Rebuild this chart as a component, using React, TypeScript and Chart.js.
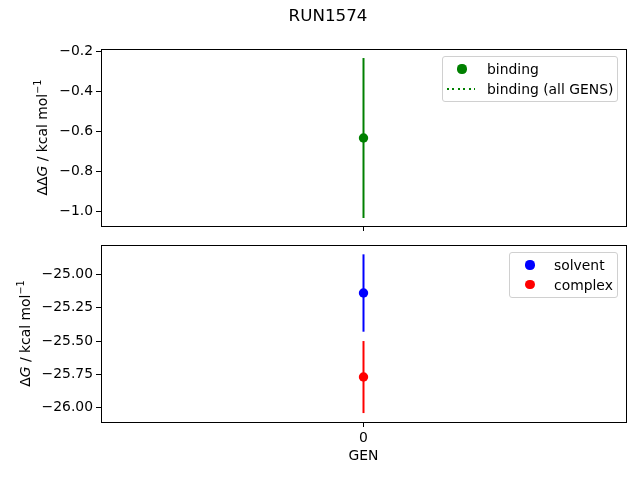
import { useEffect, useRef } from 'react';
import { Chart, registerables } from 'chart.js';

Chart.register(...registerables);

const gens = [0];
const xTicks = [0];

const bindingLabel = 'binding';
const bindingAllLabel = 'binding (all GENS)';
const bindingValues = [-0.635];
const bindingErrors = [0.4];
const bindingAllGens = [-0.635];

const solventLabel = 'solvent';
const solventValues = [-25.14];
const solventErrors = [0.29];
const complexLabel = 'complex';
const complexValues = [-25.77];
const complexErrors = [0.27];

const topTicks = [-1.0, -0.8, -0.6, -0.4, -0.2];
const bottomTicks = [-26.0, -25.75, -25.5, -25.25, -25.0];

const GREEN = '#008000';
const BLUE = '#0000ff';
const RED = '#ff0000';
const FONT = 'DejaVu Sans';
const FS = 13.9;

Chart.defaults.font.family = FONT;
Chart.defaults.color = '#000';

const fmt = (v: number, d: number) => (v < 0 ? '\u2212' : '') + Math.abs(v).toFixed(d);

type TitlePart = { text: string; italic?: boolean; sup?: boolean };

const ddgTitle: TitlePart[] = [{ text: 'ΔΔ' }, { text: 'G', italic: true }, { text: ' / kcal mol' }, { text: '\u22121', sup: true }];
const dgTitle: TitlePart[] = [{ text: 'Δ' }, { text: 'G', italic: true }, { text: ' / kcal mol' }, { text: '\u22121', sup: true }];

// box round the plot area, like matplotlib spines
const framePlugin = {
   id: 'frame',
   afterDraw(chart: any) {
      const { ctx, chartArea: a } = chart;
      ctx.save();
      ctx.strokeStyle = '#000';
      ctx.lineWidth = 1;
      ctx.strokeRect(Math.round(a.left) + 0.5, Math.round(a.top) + 0.5, Math.round(a.right - a.left), Math.round(a.bottom - a.top));
      ctx.restore();
   },
};

// rotated y title with italic G and a superscript, as mathtext draws it
const yTitlePlugin = {
   id: 'yTitle',
   afterDraw(chart: any, _args: any, opts: any) {
      const { ctx, chartArea: a } = chart;
      const parts: TitlePart[] = opts.parts || [];
      const fontOf = (p: TitlePart) => `${p.italic ? 'italic ' : ''}${p.sup ? FS * 0.7 : FS}px "${FONT}"`;
      ctx.save();
      let total = 0;
      const widths = parts.map((p) => {
         ctx.font = fontOf(p);
         const w = ctx.measureText(p.text).width;
         total += w;
         return w;
      });
      ctx.translate(opts.x, (a.top + a.bottom) / 2);
      ctx.rotate(-Math.PI / 2);
      ctx.fillStyle = '#000';
      ctx.textBaseline = 'alphabetic';
      let x = -total / 2;
      const base = FS * 0.36;
      parts.forEach((p, i) => {
         ctx.font = fontOf(p);
         ctx.fillText(p.text, x, p.sup ? base - FS * 0.42 : base);
         x += widths[i];
      });
      ctx.restore();
   },
};

function points(values: number[]) {
   return gens.map((g, i) => ({ x: g, y: values[i] }));
}

function errorBars(values: number[], errors: number[], color: string) {
   return gens.map((g, i) => ({
      data: [
         { x: g, y: values[i] - errors[i] },
         { x: g, y: values[i] + errors[i] },
      ],
      showLine: true,
      borderColor: color,
      borderWidth: 2,
      pointRadius: 0,
      order: 1,
   }));
}

function pointSet(label: string, values: number[], color: string) {
   return {
      label,
      data: points(values),
      backgroundColor: color,
      borderColor: color,
      borderWidth: 0,
      pointRadius: 4.7,
      order: 0,
   };
}

function xScale(bottom: boolean) {
   return {
      type: 'linear',
      min: -1,
      max: 1,
      afterBuildTicks: (s: any) => {
         s.ticks = xTicks.map((v) => ({ value: v }));
      },
      afterFit: (s: any) => {
         s.height = bottom ? 58 : 14;
         s.paddingLeft = 0;
         s.paddingRight = 0;
      },
      ticks: {
         autoSkip: false,
         font: { size: FS },
         padding: 3,
         callback: (v: number) => (bottom ? String(v) : ''),
      },
      grid: { drawOnChartArea: false, color: '#000', tickLength: 5 },
      border: { color: '#000' },
      title: {
         display: bottom,
         text: 'GEN',
         font: { size: FS },
         padding: { top: 4, bottom: 15 },
      },
   };
}

function yScale(min: number, max: number, ticks: number[], digits: number, width: number) {
   return {
      type: 'linear',
      min,
      max,
      afterBuildTicks: (s: any) => {
         s.ticks = ticks.map((v) => ({ value: v }));
      },
      afterFit: (s: any) => {
         s.width = width;
         s.paddingTop = 0;
         s.paddingBottom = 0;
      },
      ticks: {
         autoSkip: false,
         font: { size: FS },
         padding: 3,
         callback: (v: number) => fmt(v, digits),
      },
      grid: { drawOnChartArea: false, color: '#000', tickLength: 5 },
      border: { color: '#000' },
   };
}

function topConfig(): any {
   return {
      type: 'scatter',
      data: {
         datasets: [
            pointSet(bindingLabel, bindingValues, GREEN),
            {
               label: bindingAllLabel,
               data: points(bindingAllGens),
               showLine: true,
               borderColor: GREEN,
               borderWidth: 1.5,
               borderDash: [2, 3.4],
               pointRadius: 0,
               order: 2,
            },
            ...errorBars(bindingValues, bindingErrors, GREEN),
         ],
      },
      options: {
         animation: false,
         responsive: false,
         events: [],
         layout: { padding: { left: 30, right: 14, top: 0, bottom: 0 } },
         plugins: {
            legend: { display: false },
            tooltip: { enabled: false },
            title: {
               display: true,
               text: 'RUN1574',
               color: '#000',
               font: { size: 16.7, weight: 'normal' },
               padding: { top: 7, bottom: 22 },
            },
            yTitle: { x: 42, parts: ddgTitle },
         },
         scales: {
            x: xScale(false),
            y: yScale(-1.075, -0.19, topTicks, 1, 71),
         },
      },
      plugins: [framePlugin, yTitlePlugin],
   };
}

function bottomConfig(): any {
   return {
      type: 'scatter',
      data: {
         datasets: [
            pointSet(solventLabel, solventValues, BLUE),
            pointSet(complexLabel, complexValues, RED),
            ...errorBars(solventValues, solventErrors, BLUE),
            ...errorBars(complexValues, complexErrors, RED),
         ],
      },
      options: {
         animation: false,
         responsive: false,
         events: [],
         layout: { padding: { left: 13, right: 14, top: 5, bottom: 0 } },
         plugins: {
            legend: { display: false },
            tooltip: { enabled: false },
            yTitle: { x: 25, parts: dgTitle },
         },
         scales: {
            x: xScale(true),
            y: yScale(-26.107, -24.78, bottomTicks, 2, 88),
         },
      },
      plugins: [framePlugin, yTitlePlugin],
   };
}

function Panel({ build, top, height }: { build: () => any; top: number; height: number }) {
   const ref = useRef<HTMLCanvasElement>(null);

   useEffect(() => {
      if (!ref.current) return;
      const chart = new Chart(ref.current, build());
      return () => chart.destroy();
   }, [build]);

   return (
      <div style={{ position: 'absolute', left: 0, top, width: 640, height }}>
         <canvas ref={ref} width={640} height={height} style={{ width: 640, height }} />
      </div>
   );
}

type LegendItem = { label: string; color: string; kind: 'dot' | 'dotted' };

function Legend({ items, left, top, width, markerX }: { items: LegendItem[]; left: number; top: number; width: number; markerX: number }) {
   return (
      <div
         style={{
            position: 'absolute',
            left,
            top,
            width,
            height: 46,
            boxSizing: 'border-box',
            border: '1px solid #d0d0d0',
            borderRadius: 3,
            background: 'rgba(255,255,255,0.8)',
            fontFamily: FONT,
            fontSize: FS,
         }}
      >
         {items.map((it, i) => {
            const cy = 12 + i * 19.5;
            return (
               <div key={it.label}>
                  {it.kind === 'dot' ? (
                     <div
                        style={{
                           position: 'absolute',
                           left: markerX - 4.6,
                           top: cy - 4.6,
                           width: 9.2,
                           height: 9.2,
                           borderRadius: '50%',
                           background: it.color,
                        }}
                     />
                  ) : (
                     <div
                        style={{
                           position: 'absolute',
                           left: 4,
                           top: cy - 1,
                           width: 28,
                           height: 2,
                           background: `repeating-linear-gradient(to right, ${it.color} 0 2px, transparent 2px 5.4px)`,
                        }}
                     />
                  )}
                  <span
                     style={{
                        position: 'absolute',
                        left: 44,
                        top: cy - 8,
                        lineHeight: '16px',
                        whiteSpace: 'nowrap',
                        color: '#000',
                     }}
                  >
                     {it.label}
                  </span>
               </div>
            );
         })}
      </div>
   );
}

const topLegend: LegendItem[] = [
   { label: bindingLabel, color: GREEN, kind: 'dot' },
   { label: bindingAllLabel, color: GREEN, kind: 'dotted' },
];
const bottomLegend: LegendItem[] = [
   { label: solventLabel, color: BLUE, kind: 'dot' },
   { label: complexLabel, color: RED, kind: 'dot' },
];

export default function App() {
   return (
      <div style={{ position: 'absolute', left: 0, top: 0, width: 640, height: 480, background: '#fff' }}>
         <Panel build={topConfig} top={0} height={240} />
         <Panel build={bottomConfig} top={240} height={240} />
         <Legend items={topLegend} left={442} top={56} width={176} markerX={19} />
         <Legend items={bottomLegend} left={509} top={252} width={109} markerX={20} />
      </div>
   );
}
